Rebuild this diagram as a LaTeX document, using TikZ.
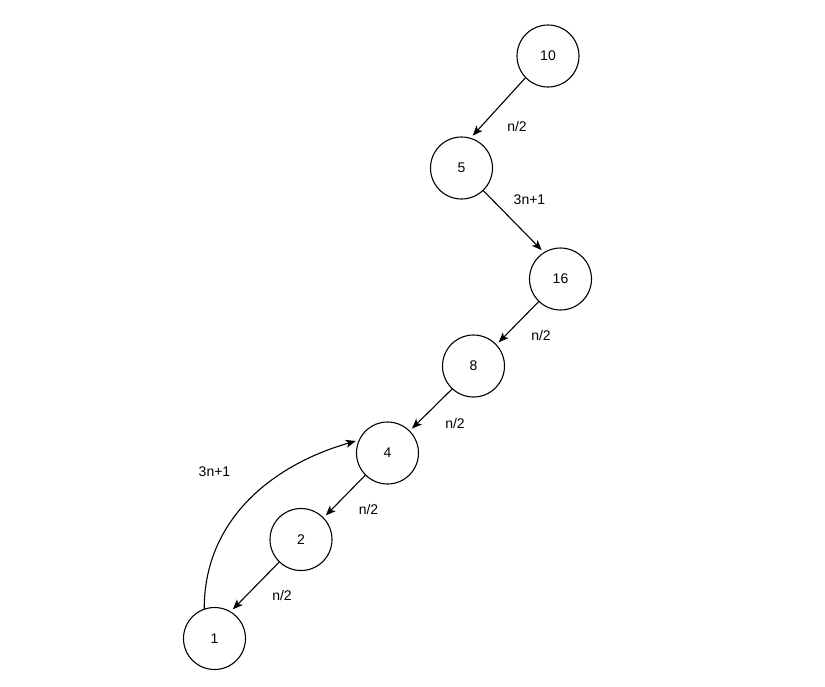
\documentclass[tikz,border=0pt]{standalone}
\usepackage{fontspec}
\setmainfont{Liberation Sans}
\usetikzlibrary{arrows.meta}
\begin{document}
\begin{tikzpicture}[x=1pt,y=-1pt,line join=round,line cap=round,>={Stealth[length=10pt,width=8pt,inset=2.5pt]}]
			\tikzset{every node/.style={font=\fontsize{14}{16}\selectfont},
				num/.style={circle,draw,line width=1.1pt,minimum size=62pt,inner sep=0pt},
				edge/.style={->,line width=1.1pt,shorten >=3pt}}
			\useasboundingbox (0,0) rectangle (825,686);
			\node[num] (n10) at (548,56) {10};
			\node[num] (n5) at (461.5,168) {5};
			\node[num] (n16) at (560.5,279) {16};
			\node[num] (n8) at (473.5,366) {8};
			\node[num] (n4) at (387.5,453) {4};
			\node[num] (n2) at (301,539.5) {2};
			\node[num] (n1) at (214.5,638.5) {1};
			\draw[edge] (n10.224)--(n5.73);
			\draw[edge] (n5.-46)--(n16.122);
			\draw[edge] (n16.226)--(n8.43);
			\draw[edge] (n8.227)--(n4.45);
			\draw[edge] (n4.225)--(n2.44);
			\draw[edge] (n2.226)--(n1.59);
			\draw[edge] (n1.109) to[out=90,in=196] (n4.156);
			\node (l1) at (517,126) {n/2};
			\node (l2) at (529.5,200) {3n+1};
			\node (l3) at (541,335) {n/2};
			\node (l4) at (455,423) {n/2};
			\node (l5) at (368.5,509.5) {n/2};
			\node (l6) at (282,595) {n/2};
			\node (l7) at (214.5,472) {3n+1};
	\end{tikzpicture}
\end{document}
